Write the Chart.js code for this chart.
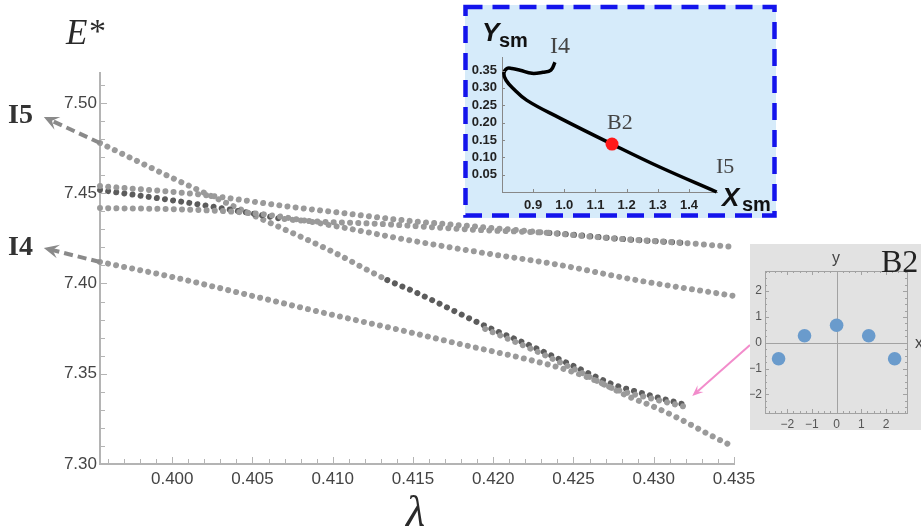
<!DOCTYPE html>
<html>
<head>
<meta charset="utf-8">
<script src="https://cdn.jsdelivr.net/npm/chart.js@4.4.1/dist/chart.umd.min.js"></script>
<style>
  body { margin: 0; background: #fff; }
  #wrap { position: relative; width: 921px; height: 526px; overflow: hidden; }
  canvas { position: absolute; }
</style>
</head>
<body>
<div id="wrap">
  <canvas id="main" width="921" height="526" style="left:0;top:0"></canvas>
  <canvas id="sm" width="317" height="218" style="left:462px;top:3px"></canvas>
  <canvas id="b2" width="171" height="186" style="left:750px;top:244px"></canvas>
</div>
<script>
// ---- main panel: E* against lambda ----
const lamI5 = [0.3955, 0.4000, 0.4050, 0.4099, 0.4134, 0.4150, 0.4195, 0.4225, 0.4254, 0.4274, 0.4297, 0.4320];
const eI5   = [7.4778, 7.4585, 7.4380, 7.4180, 7.4019, 7.3958, 7.3765, 7.3648, 7.3526, 7.3443, 7.3382, 7.3327];
const lamTwin = [0.4195, 0.4225, 0.4254, 0.4274, 0.4297, 0.4320];
const eTwin   = [7.3748, 7.3632, 7.3510, 7.3421, 7.3366, 7.3316];
const lamI4 = [0.3955, 0.4000, 0.4050, 0.4100, 0.4142, 0.4179, 0.4223, 0.4246, 0.4266, 0.4285, 0.4299, 0.4315, 0.4335, 0.4350];
const eI4   = [7.4119, 7.4036, 7.3931, 7.3826, 7.3742, 7.3665, 7.3576, 7.3521, 7.3454, 7.3371, 7.3321, 7.3255, 7.3161, 7.3094];
const lamC = [0.3955, 0.4020, 0.4070, 0.4111, 0.4142, 0.4192, 0.4235, 0.4279, 0.4320, 0.4350];
const eC   = [7.4540, 7.4490, 7.4429, 7.4385, 7.4352, 7.4313, 7.4280, 7.4247, 7.4224, 7.4202];
const lamD = [0.3955, 0.4011, 0.4048, 0.4070, 0.4129, 0.4192, 0.4235, 0.4279, 0.4320];
const eD   = [7.4518, 7.4446, 7.4391, 7.4357, 7.4330, 7.4296, 7.4280, 7.4247, 7.4224];
const lamE = [0.3955, 0.4017, 0.4055, 0.4080, 0.4111, 0.4140, 0.4190, 0.4241, 0.4289, 0.4350];
const eE   = [7.4418, 7.4407, 7.4385, 7.4352, 7.4302, 7.4252, 7.4175, 7.4103, 7.4019, 7.3931];
const lamTicks = [0.400, 0.405, 0.410, 0.415, 0.420, 0.425, 0.430, 0.435];
const eTicks = [7.30, 7.35, 7.40, 7.45, 7.50];
// arrow tips for the I5 / I4 labels and the B2 pointer
const tipI5 = [0.3920, 7.4922];
const tipI4 = [0.3920, 7.4197];
const tipB2 = [0.4324, 7.3377];

// ---- inset: (X_sm, Y_sm) path ----
const smX = [0.970, 0.957, 0.931, 0.896, 0.858, 0.832, 0.816, 0.806, 0.813, 0.835, 0.880, 0.986, 1.153, 1.306, 1.489];
const smY = [0.374, 0.351, 0.345, 0.342, 0.351, 0.356, 0.356, 0.342, 0.322, 0.299, 0.264, 0.213, 0.138, 0.072, 0.000];
const b2Point = [1.153, 0.138];
const smXTicks = [0.9, 1.0, 1.1, 1.2, 1.3, 1.4];
const smYTicks = [0.05, 0.10, 0.15, 0.20, 0.25, 0.30, 0.35];

// ---- inset: B2 configuration ----
const b2X = [-2.35, -1.3, 0, 1.3, 2.35];
const b2Y = [-0.62, 0.27, 0.68, 0.27, -0.62];
const b2Ticks = [-2, -1, 0, 1, 2];

const sans = "'Liberation Sans', Arial, sans-serif";
const serif = "'Liberation Serif', 'Times New Roman', serif";
const light = '#9a9a9a', dark = '#5c5c5c', axisGray = '#b4b4b4';

function pts(xs, ys) { return xs.map((v, i) => ({x: v, y: ys[i]})); }

function dotted(xs, ys, darkRanges) {
  const isDark = v => darkRanges.some(r => v >= r[0] && v <= r[1]);
  return {
    data: pts(xs, ys),
    showLine: true, pointRadius: 0, borderWidth: 6, borderColor: light,
    borderDash: [0.001, 8.2], borderCapStyle: 'round', cubicInterpolationMode: 'monotone',
    clip: false,
    segment: { borderColor: c => isDark(c.p0.parsed.x) ? dark : light }
  };
}

function arrowHead(ctx, x0, y0, x1, y1, len, half, color) {
  const ang = Math.atan2(y1 - y0, x1 - x0);
  ctx.save();
  ctx.translate(x1, y1); ctx.rotate(ang);
  ctx.fillStyle = color;
  ctx.beginPath();
  ctx.moveTo(0, 0); ctx.lineTo(-len, -half); ctx.lineTo(-len * 0.6, 0); ctx.lineTo(-len, half);
  ctx.closePath(); ctx.fill();
  ctx.restore();
}

function dashedArrow(ctx, x0, y0, x1, y1) {
  const d = Math.hypot(x1 - x0, y1 - y0);
  const ex = x1 - (x1 - x0) / d * 8, ey = y1 - (y1 - y0) / d * 8;
  ctx.save();
  ctx.strokeStyle = '#8a8a8a'; ctx.lineWidth = 4; ctx.setLineDash([9, 5]);
  ctx.beginPath(); ctx.moveTo(x0, y0); ctx.lineTo(ex, ey); ctx.stroke();
  ctx.restore();
  arrowHead(ctx, x0, y0, x1, y1, 15, 7, '#8a8a8a');
}

const mainDecor = {
  id: 'mainDecor',
  afterDraw(chart) {
    const {ctx, scales: {x, y}, chartArea: a} = chart;
    ctx.save();
    ctx.strokeStyle = axisGray; ctx.lineWidth = 1;
    for (let k = 396; k <= 435; k++) {
      const px = Math.round(x.getPixelForValue(k / 1000)) + 0.5;
      const len = k % 5 === 0 ? 6 : 4;
      ctx.beginPath(); ctx.moveTo(px, a.bottom - 1); ctx.lineTo(px, a.bottom - 1 - len); ctx.stroke();
    }
    for (let k = 731; k <= 751; k++) {
      const py = Math.round(y.getPixelForValue(k / 100)) + 0.5;
      const len = k % 5 === 0 ? 6 : 4;
      ctx.beginPath(); ctx.moveTo(a.left + 1, py); ctx.lineTo(a.left + 1 + len, py); ctx.stroke();
    }
    // label arrows
    dashedArrow(ctx, x.getPixelForValue(lamI5[0]), y.getPixelForValue(eI5[0]),
                x.getPixelForValue(tipI5[0]), y.getPixelForValue(tipI5[1]));
    dashedArrow(ctx, x.getPixelForValue(lamI4[0]), y.getPixelForValue(eI4[0]),
                x.getPixelForValue(tipI4[0]), y.getPixelForValue(tipI4[1]));
    // pink pointer to B2
    const bx = x.getPixelForValue(tipB2[0]), by = y.getPixelForValue(tipB2[1]);
    ctx.strokeStyle = '#f28ccb'; ctx.lineWidth = 2;
    ctx.beginPath(); ctx.moveTo(750, 345); ctx.lineTo(bx + 4, by - 3.4); ctx.stroke();
    arrowHead(ctx, 750, 345, bx, by, 11, 4.5, '#f28ccb');
    // texts
    ctx.fillStyle = '#333';
    ctx.font = 'bold 28px ' + serif;
    ctx.textBaseline = 'alphabetic'; ctx.textAlign = 'left';
    ctx.fillText('I5', 8, 123);
    ctx.fillText('I4', 8, 255);
    ctx.fillStyle = '#2a2a2a';
    ctx.font = 'italic 35px ' + serif;
    ctx.fillText('E', 66, 44);
    ctx.font = '34px ' + serif;
    ctx.fillText('*', 89, 42);
    ctx.font = 'italic 44px ' + serif;
    ctx.fillText('λ', 406, 526);
    ctx.restore();
  }
};

new Chart(document.getElementById('main'), {
  type: 'scatter',
  data: {
    datasets: [
      dotted(lamE, eE, []),
      dotted(lamC, eC, []),
      dotted(lamD, eD, [[0.395, 0.405], [0.4234, 0.433]]),
      dotted(lamI4, eI4, []),
      dotted(lamTwin, eTwin, []),
      dotted(lamI5, eI5, [[0.413, 0.433]])
    ]
  },
  options: {
    responsive: false, animation: false, events: [],
    layout: { padding: { top: 73, right: 187, left: 0, bottom: 0 } },
    plugins: { legend: { display: false }, tooltip: { enabled: false } },
    scales: {
      x: {
        type: 'linear', min: 0.3955, max: 0.435,
        afterFit: s => { s.height = 62; },
        afterBuildTicks: s => { s.ticks = lamTicks.map(v => ({value: v})); },
        grid: { display: false, drawTicks: false },
        border: { display: true, color: axisGray, width: 2 },
        ticks: { padding: 5, color: '#444', font: { family: sans, size: 17 }, maxRotation: 0, autoSkip: false,
                 callback: v => v.toFixed(3) }
      },
      y: {
        type: 'linear', min: 7.30, max: 7.5166,
        afterFit: s => { s.width = 100; },
        afterBuildTicks: s => { s.ticks = eTicks.map(v => ({value: v})); },
        grid: { display: false, drawTicks: false },
        border: { display: true, color: axisGray, width: 2 },
        ticks: { padding: 3, color: '#444', font: { family: sans, size: 17 }, autoSkip: false,
                 callback: v => v.toFixed(2) }
      }
    }
  },
  plugins: [mainDecor]
});

// ---- blue inset ----
const smDecor = {
  id: 'smDecor',
  beforeDraw(chart) {
    const ctx = chart.ctx;
    ctx.save();
    ctx.fillStyle = '#d6ebfa';
    ctx.fillRect(3, 2, 311, 213);
    ctx.restore();
  },
  afterDraw(chart) {
    const {ctx, scales: {x, y}, chartArea: a} = chart;
    ctx.save();
    ctx.strokeStyle = '#888'; ctx.lineWidth = 1;
    smXTicks.forEach(v => {
      const px = Math.round(x.getPixelForValue(v)) + 0.5;
      ctx.beginPath(); ctx.moveTo(px, a.bottom); ctx.lineTo(px, a.bottom - 3); ctx.stroke();
    });
    smYTicks.forEach(v => {
      const py = Math.round(y.getPixelForValue(v)) + 0.5;
      ctx.beginPath(); ctx.moveTo(a.left, py); ctx.lineTo(a.left + 3, py); ctx.stroke();
    });
    ctx.strokeStyle = '#1414ec'; ctx.lineWidth = 4.5; ctx.setLineDash([17, 10]);
    ctx.strokeRect(3.5, 4, 309, 208.5);
    ctx.setLineDash([]);
    ctx.fillStyle = '#111';
    ctx.font = 'italic bold 26px ' + sans;
    ctx.fillText('Y', 20, 38);
    ctx.fillText('X', 260, 203);
    ctx.font = 'bold 20px ' + sans;
    ctx.fillText('sm', 37, 44);
    ctx.fillText('sm', 280, 208);
    ctx.fillStyle = '#444';
    ctx.font = '24px ' + serif;
    ctx.fillText('I4', 88, 50);
    ctx.font = '22px ' + serif;
    ctx.fillText('B2', 145, 126);
    ctx.fillText('I5', 254, 170);
    ctx.restore();
  }
};

new Chart(document.getElementById('sm'), {
  type: 'scatter',
  data: {
    datasets: [
      { data: [{x: b2Point[0], y: b2Point[1]}], pointRadius: 6.5, backgroundColor: '#ff1a1a',
        borderWidth: 0, showLine: false, clip: false },
      { data: pts(smX, smY), showLine: true, pointRadius: 0, borderColor: '#000', borderWidth: 3.5,
        tension: 0.4, clip: false }
    ]
  },
  options: {
    responsive: false, animation: false, events: [],
    layout: { padding: { top: 54, right: 62, left: 0, bottom: 0 } },
    plugins: { legend: { display: false }, tooltip: { enabled: false } },
    scales: {
      x: {
        type: 'linear', min: 0.8, max: 1.49,
        afterFit: s => { s.height = 29; },
        afterBuildTicks: s => { s.ticks = smXTicks.map(v => ({value: v})); },
        grid: { display: false, drawTicks: false },
        border: { display: true, color: '#888', width: 1 },
        ticks: { padding: 6, color: '#222', font: { family: sans, size: 13, weight: 'bold' }, maxRotation: 0,
                 autoSkip: false, callback: v => v.toFixed(1) }
      },
      y: {
        type: 'linear', min: 0, max: 0.389,
        afterFit: s => { s.width = 40; },
        afterBuildTicks: s => { s.ticks = smYTicks.map(v => ({value: v})); },
        grid: { display: false, drawTicks: false },
        border: { display: true, color: '#888', width: 1 },
        ticks: { padding: 5, color: '#222', font: { family: sans, size: 13, weight: 'bold' },
                 autoSkip: false, callback: v => v.toFixed(2) }
      }
    }
  },
  plugins: [smDecor]
});

// ---- gray inset: B2 ----
const b2Decor = {
  id: 'b2Decor',
  beforeDraw(chart) {
    const ctx = chart.ctx;
    ctx.save();
    ctx.fillStyle = '#e2e2e2';
    ctx.fillRect(0, 0, chart.width, chart.height);
    ctx.restore();
  },
  beforeDatasetsDraw(chart) {
    const {ctx, scales: {x, y}, chartArea: a} = chart;
    ctx.save();
    ctx.strokeStyle = '#a2a2a2'; ctx.lineWidth = 1;
    ctx.strokeRect(a.left + 0.5, a.top + 0.5, a.right - a.left, a.bottom - a.top);
    const x0 = Math.round(x.getPixelForValue(0)) + 0.5, y0 = Math.round(y.getPixelForValue(0)) + 0.5;
    ctx.beginPath(); ctx.moveTo(x0, a.top); ctx.lineTo(x0, a.bottom); ctx.stroke();
    ctx.beginPath(); ctx.moveTo(a.left, y0); ctx.lineTo(a.right, y0); ctx.stroke();
    for (let k = -11; k <= 11; k++) {
      const v = k / 4, len = k % 4 === 0 ? 4 : 2;
      if (v > x.min && v < x.max) {
        const px = Math.round(x.getPixelForValue(v)) + 0.5;
        ctx.beginPath(); ctx.moveTo(px, a.bottom); ctx.lineTo(px, a.bottom - len); ctx.stroke();
        ctx.beginPath(); ctx.moveTo(px, a.top); ctx.lineTo(px, a.top + len); ctx.stroke();
      }
      if (v > y.min && v < y.max) {
        const py = Math.round(y.getPixelForValue(v)) + 0.5;
        ctx.beginPath(); ctx.moveTo(a.left, py); ctx.lineTo(a.left + len, py); ctx.stroke();
        ctx.beginPath(); ctx.moveTo(a.right, py); ctx.lineTo(a.right - len, py); ctx.stroke();
      }
    }
    ctx.restore();
  },
  afterDraw(chart) {
    const ctx = chart.ctx;
    ctx.save();
    ctx.fillStyle = '#444';
    ctx.font = '16px ' + sans;
    ctx.textAlign = 'center';
    ctx.fillText('y', 86, 19);
    ctx.textAlign = 'left';
    ctx.fillText('x', 165, 104);
    ctx.fillStyle = '#222';
    ctx.font = '32px ' + serif;
    ctx.fillText('B2', 131, 28);
    ctx.restore();
  }
};

new Chart(document.getElementById('b2'), {
  type: 'scatter',
  data: { datasets: [ { data: pts(b2X, b2Y), pointRadius: 6.8, backgroundColor: '#6a9bcc', borderWidth: 0, clip: false } ] },
  options: {
    responsive: false, animation: false, events: [],
    layout: { padding: { top: 27, right: 14, left: 0, bottom: 0 } },
    plugins: { legend: { display: false }, tooltip: { enabled: false } },
    scales: {
      x: {
        type: 'linear', min: -2.9, max: 2.85,
        afterFit: s => { s.height = 17; },
        afterBuildTicks: s => { s.ticks = b2Ticks.map(v => ({value: v})); },
        grid: { display: false, drawTicks: false }, border: { display: false },
        ticks: { padding: 4, color: '#555', font: { family: sans, size: 12 }, maxRotation: 0, autoSkip: false,
                 callback: v => v < 0 ? '\u2212' + (-v) : String(v) }
      },
      y: {
        type: 'linear', min: -2.72, max: 2.78,
        afterFit: s => { s.width = 15; },
        afterBuildTicks: s => { s.ticks = b2Ticks.map(v => ({value: v})); },
        grid: { display: false, drawTicks: false }, border: { display: false },
        ticks: { padding: 3, color: '#555', font: { family: sans, size: 12 }, autoSkip: false,
                 callback: v => v < 0 ? '\u2212' + (-v) : String(v) }
      }
    }
  },
  plugins: [b2Decor]
});
</script>
</body>
</html>
